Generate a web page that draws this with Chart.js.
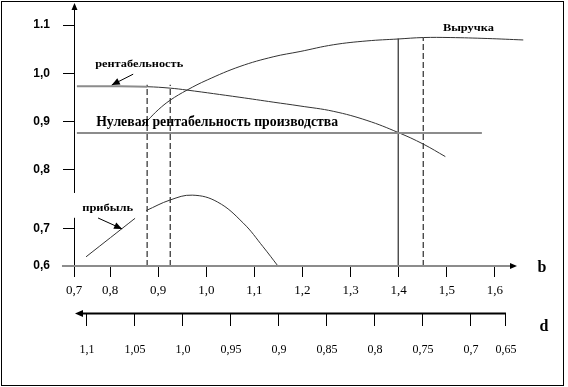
<!DOCTYPE html>
<html lang="ru">
<head>
<meta charset="utf-8">
<title>Выручка, рентабельность и прибыль</title>
<script src="https://cdn.jsdelivr.net/npm/chart.js@4.4.1/dist/chart.umd.min.js"></script>
<style>
  html, body { margin: 0; padding: 0; background: #fff; }
  canvas { display: block; }
</style>
</head>
<body>
<canvas id="chart" width="568" height="387"></canvas>
<script>
// Выручка
const REVENUE_B = [0.879, 0.900, 0.925, 0.960, 1.002, 1.070, 1.139, 1.195, 1.264, 1.334, 1.399, 1.451, 1.507, 1.584, 1.659];
const REVENUE_Y = [0.903, 0.924, 0.944, 0.965, 0.986, 1.014, 1.034, 1.045, 1.059, 1.067, 1.071, 1.074, 1.074, 1.072, 1.069];

// рентабельность
const RENT_B = [0.731, 0.800, 0.877, 0.925, 0.960, 1.070, 1.139, 1.195, 1.264, 1.334, 1.399, 1.451, 1.497];
const RENT_Y = [0.973, 0.973, 0.972, 0.969, 0.965, 0.950, 0.940, 0.932, 0.921, 0.902, 0.877, 0.853, 0.827];

// Нулевая рентабельность производства
const ZERO_B = [0.731, 1.573];
const ZERO_Y = [0.876, 0.876];

// прибыль (с разрывом)
const PROFIT_B = [0.750, 0.852, 0.863, 0.875, 0.925, 0.971, 1.023, 1.077, 1.118, 1.149];
const PROFIT_Y = [0.619, 0.699, null, 0.715, 0.737, 0.747, 0.733, 0.689, 0.640, 0.600];

// вертикальные отметки
const MARK_B = [0.877, 0.925, 1.399, 1.451];
const MARK_TOP = [0.976, 0.976, 1.072, 1.073];
const MARK_DASHED = [true, true, false, true];

// шкалы
const B_TICKS = [0.725, 0.8, 0.9, 1.0, 1.1, 1.2, 1.3, 1.4, 1.5, 1.6];
const B_LABELS = ["0,7", "0,8", "0,9", "1,0", "1,1", "1,2", "1,3", "1,4", "1,5", "1,6"];
const D_TICKS = [1.1, 1.05, 1.0, 0.95, 0.9, 0.85, 0.8, 0.75, 0.7, 0.6635];
const D_LABELS = ["1,1", "1,05", "1,0", "0,95", "0,9", "0,85", "0,8", "0,75", "0,7", "0,65"];
const Y_TICKS = [0.6, 0.677, 0.8, 0.9, 1.0, 1.1];
const Y_LABELS = ["0,6", "0,7", "0,8", "0,9", "1,0", "1.1"];
const Y_BREAK = [0.700, 0.7515];

const SERIF = '"Liberation Serif", "Times New Roman", serif';
const SANS = '"Liberation Sans", Arial, sans-serif';
const GRAY = "#8c8c8c";

const toPoints = (xs, ys) => xs.map((x, i) => ({ x, y: ys[i] }));

function curve(label, xs, ys, extra) {
  return Object.assign({
    label,
    data: toPoints(xs, ys),
    showLine: true,
    borderColor: "#333",
    borderWidth: 1,
    pointRadius: 0,
    fill: false,
    clip: false,
    tension: 0.4,
  }, extra);
}

const datasets = [
  curve("Нулевая рентабельность производства", ZERO_B, ZERO_Y, { borderColor: GRAY, borderWidth: 2, tension: 0 }),
  curve("рентабельность", RENT_B, RENT_Y, {
    segment: {
      borderColor: (c) => (c.p0DataIndex < 2 ? GRAY : "#333"),
      borderWidth: (c) => (c.p0DataIndex < 2 ? 2 : 1),
    },
  }),
  curve("Выручка", REVENUE_B, REVENUE_Y),
  curve("прибыль", PROFIT_B, PROFIT_Y),
  ...MARK_B.map((b, i) =>
    curve("mark" + i, [b, b], [Y_TICKS[0], MARK_TOP[i]], {
      borderColor: "#000",
      borderDash: MARK_DASHED[i] ? [6, 3] : [],
      tension: 0,
    })
  ),
];

function arrowHead(ctx, x, y, angle, len, half) {
  ctx.save();
  ctx.translate(x, y);
  ctx.rotate(angle);
  ctx.beginPath();
  ctx.moveTo(0, 0);
  ctx.lineTo(-len, -half);
  ctx.lineTo(-len, half);
  ctx.closePath();
  ctx.fill();
  ctx.restore();
}

function pointer(ctx, x1, y1, x2, y2) {
  ctx.beginPath();
  ctx.moveTo(x1, y1);
  ctx.lineTo(x2, y2);
  ctx.stroke();
  arrowHead(ctx, x2, y2, Math.atan2(y2 - y1, x2 - x1), 8, 3.5);
}

// Текст в оригинале растянут по ширине, поэтому подгоняем ширину.
function stretchedText(ctx, text, x, y, size, width) {
  ctx.save();
  ctx.font = `bold ${size}px ${SERIF}`;
  const w = ctx.measureText(text).width;
  ctx.translate(x, y);
  ctx.scale(width / w, 1);
  ctx.textAlign = "left";
  ctx.textBaseline = "middle";
  ctx.fillText(text, 0, 0);
  ctx.restore();
}

const NOTES = [
  { text: "рентабельность", b: 0.769, y: 1.019, size: 11, width: 88 },
  { text: "Нулевая рентабельность производства", b: 0.771, y: 0.897, size: 14, width: 242 },
  { text: "Выручка", b: 1.492, y: 1.094, size: 11, width: 51 },
  { text: "прибыль", b: 0.742, y: 0.721, size: 11, width: 51 },
];
const POINTERS = [
  { from: [0.848, 0.998], to: [0.8035, 0.9755] },
  { from: [0.775, 0.6996], to: [0.825, 0.677] },
];

const sketchPlugin = {
  id: "sketch",
  afterDraw(chart) {
    const { ctx } = chart;
    const { x, d, y } = chart.scales;
    ctx.save();
    ctx.strokeStyle = "#000";
    ctx.fillStyle = "#000";
    ctx.lineWidth = 1;

    // рамка
    ctx.strokeRect(1.5, 1.5, 562, 384);

    // ось Y с разрывом
    const ax = Math.floor(x.getPixelForValue(B_TICKS[0])) + 0.5;
    ctx.beginPath();
    ctx.moveTo(ax, y.top + 4);
    ctx.lineTo(ax, y.getPixelForValue(Y_BREAK[1]));
    ctx.moveTo(ax, y.getPixelForValue(Y_BREAK[0]));
    ctx.lineTo(ax, y.bottom);
    ctx.stroke();
    arrowHead(ctx, ax, y.top - 1, -Math.PI / 2, 7, 3);

    // ось b
    ctx.strokeStyle = GRAY;
    ctx.lineWidth = 2;
    ctx.beginPath();
    ctx.moveTo(x.getPixelForValue(0.7), x.top);
    ctx.lineTo(x.right - 5, x.top);
    ctx.stroke();
    arrowHead(ctx, x.right, x.top, 0, 7, 3);

    // ось d (направлена влево)
    ctx.strokeStyle = "#000";
    ctx.beginPath();
    ctx.moveTo(d.getPixelForValue(D_TICKS[D_TICKS.length - 1]), d.top + 0.5);
    ctx.lineTo(d.left + 6, d.top + 0.5);
    ctx.stroke();
    arrowHead(ctx, d.left + 1, d.top + 0.5, Math.PI, 8, 3.5);

    ctx.font = `bold 16px ${SERIF}`;
    ctx.textAlign = "center";
    ctx.textBaseline = "middle";
    ctx.fillText("b", x.right + 25, x.top + 2);
    ctx.fillText("d", d.right + 27, d.top + 14);

    // подписи и стрелки
    NOTES.forEach((n) =>
      stretchedText(ctx, n.text, x.getPixelForValue(n.b), y.getPixelForValue(n.y), n.size, n.width)
    );
    ctx.lineWidth = 1;
    POINTERS.forEach((p) =>
      pointer(
        ctx,
        x.getPixelForValue(p.from[0]), y.getPixelForValue(p.from[1]),
        x.getPixelForValue(p.to[0]), y.getPixelForValue(p.to[1])
      )
    );
    ctx.restore();
  },
};

new Chart(document.getElementById("chart"), {
  type: "scatter",
  data: { datasets },
  plugins: [sketchPlugin],
  options: {
    responsive: false,
    devicePixelRatio: 1,
    animation: false,
    layout: { padding: { top: 4, right: 51, bottom: 14, left: 0 } },
    plugins: { legend: { display: false }, tooltip: { enabled: false } },
    scales: {
      x: {
        type: "linear",
        position: "bottom",
        weight: 0,
        min: 0.725,
        max: 1.646,
        afterBuildTicks: (s) => { s.ticks = B_TICKS.map((value) => ({ value })); },
        afterFit: (s) => { s.height = 47; s.paddingLeft = 0; s.paddingRight = 0; },
        border: { display: false },
        grid: { drawOnChartArea: false, tickLength: 11, tickColor: "#000" },
        ticks: {
          padding: 6,
          color: "#000",
          maxRotation: 0,
          autoSkip: false,
          font: { family: SERIF, size: 13 },
          callback: (v, i) => B_LABELS[i],
        },
      },
      d: {
        type: "linear",
        axis: "x",
        position: "bottom",
        weight: 1,
        reverse: true,
        min: 0.652,
        max: 1.1135,
        afterBuildTicks: (s) => { s.ticks = D_TICKS.map((value) => ({ value })); },
        afterFit: (s) => { s.height = 60; s.paddingLeft = 0; s.paddingRight = 0; },
        border: { display: false },
        grid: { drawOnChartArea: false, tickLength: 13, tickColor: "#000" },
        ticks: {
          padding: 17,
          color: "#000",
          maxRotation: 0,
          autoSkip: false,
          font: { family: SERIF, size: 12 },
          callback: (v, i) => D_LABELS[i],
        },
      },
      y: {
        type: "linear",
        position: "left",
        min: 0.6,
        max: 1.1436,
        afterBuildTicks: (s) => { s.ticks = Y_TICKS.map((value) => ({ value })); },
        afterFit: (s) => { s.width = 74; s.paddingTop = 0; s.paddingBottom = 0; },
        border: { display: false },
        grid: {
          drawOnChartArea: false,
          tickLength: 11,
          tickColor: (c) => (c.tick && c.tick.value === 0.6 ? "rgba(0,0,0,0)" : "#000"),
        },
        ticks: {
          padding: 13,
          color: "#000",
          font: { family: SANS, size: 12, weight: "bold" },
          callback: (v, i) => Y_LABELS[i],
        },
      },
    },
  },
});
</script>
</body>
</html>
